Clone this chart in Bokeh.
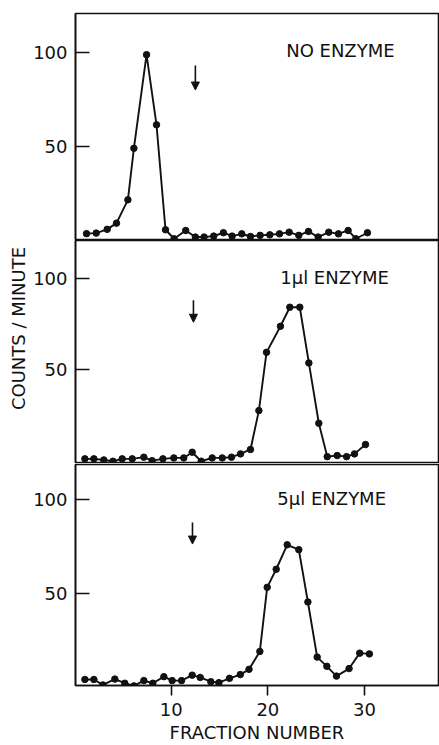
import math
from bokeh.plotting import figure
from bokeh.layouts import column, row
from bokeh.models import FixedTicker, Arrow, NormalHead, Range1d
from bokeh.core.properties import value
from bokeh.embed import file_html
from bokeh.resources import INLINE

# ---- data ----
top_x = [1.24, 2.24, 3.38, 4.34, 5.52, 6.14, 7.45, 8.48, 9.41, 10.3, 11.5, 12.5, 13.4, 14.4, 15.4,
         16.3, 17.3, 18.2, 19.2, 20.2, 21.2, 22.2, 23.2, 24.2, 25.2, 26.3, 27.3, 28.3, 29.1, 30.3]
top_y = [3.6, 3.9, 5.9, 9.2, 21.6, 49.0, 98.8, 61.5, 5.7, 0.9, 5.3, 1.8, 1.8, 2.3, 4.1,
         2.3, 3.5, 2.1, 2.7, 3.0, 3.5, 4.4, 2.7, 4.8, 1.8, 4.4, 3.5, 5.3, 0.9, 4.1]

mid_x = [1.07, 2.0, 3.03, 3.97, 4.93, 5.97, 7.17, 8.03, 9.14, 10.27, 11.3, 12.17, 13.1, 14.24, 15.28,
         16.24, 17.17, 18.2, 19.07, 19.86, 21.3, 22.27, 23.3, 24.24, 25.27, 26.14, 27.17, 28.14, 28.96, 30.1]
mid_y = [1.5, 1.5, 0.9, 0.2, 1.5, 1.5, 2.4, 0.5, 1.5, 2.0, 2.0, 5.1, 0.2, 2.0, 2.0,
         2.4, 4.2, 6.6, 27.8, 59.6, 73.8, 84.2, 84.2, 53.8, 20.9, 2.7, 3.3, 2.7, 4.2, 9.3]

bot_x = [1.07, 2.0, 2.93, 4.17, 5.2, 6.14, 7.17, 8.1, 9.24, 10.1, 11.07, 12.17, 13.0, 14.1, 14.93,
         16.03, 17.15, 18.05, 19.17, 19.93, 20.86, 22.0, 23.2, 24.14, 25.1, 26.1, 27.1, 28.4, 29.5, 30.5]
bot_y = [4.5, 4.5, 1.6, 4.7, 2.5, 1.1, 3.9, 2.5, 6.0, 3.9, 3.9, 6.8, 5.6, 3.3, 2.8,
         5.1, 7.1, 9.9, 19.4, 53.5, 63.1, 76.1, 73.5, 45.7, 16.4, 11.5, 6.3, 10.3, 18.5, 18.1]

panel_labels = ["NO ENZYME", "1\u03bcl ENZYME", "5\u03bcl ENZYME"]
arrow_x = [12.5, 12.3, 12.2]          # fraction marked by the arrow
y_ticks = [50, 100]
x_ticks = [10, 20, 30]
x_label = "FRACTION NUMBER"
y_label = "COUNTS / MINUTE"

FONT = "DejaVu Sans"
INK = "#111111"

# layout (not data)
label_pos = [(27.5, 101.0), (26.9, 100.4), (26.6, 100.5)]
arrow_span = [(93, 80), (88, 76), (88, 76.5)]
y_ranges = [(0.5, 120.7), (-0.5, 120.6), (1.3, 118.8)]
heights = [240, 224, 281]
tops = [13, 0, 0]
bottoms = [1, 2, 57]
LEFT_W = 30

series = [(top_x, top_y), (mid_x, mid_y), (bot_x, bot_y)]
figs = []
for i in range(3):
    last = (i == 2)
    p = figure(width=439 - LEFT_W, height=heights[i], output_backend="svg", toolbar_location=None,
               x_range=Range1d(0.1, 37.65), y_range=Range1d(*y_ranges[i]),
               x_axis_location="below" if last else None,
               min_border_left=75 - LEFT_W, min_border_right=1,
               min_border_top=tops[i], min_border_bottom=bottoms[i])
    p.background_fill_color = "white"
    p.border_fill_color = "white"
    p.outline_line_color = INK
    p.outline_line_width = 1.6
    p.grid.visible = False

    ya = p.yaxis[0]
    ya.ticker = FixedTicker(ticks=y_ticks)
    ya.minor_tick_line_color = None
    ya.major_tick_in = 14
    ya.major_tick_out = 0
    ya.major_tick_line_width = 1.6
    ya.axis_line_width = 1.6
    ya.axis_line_color = INK
    ya.major_tick_line_color = INK
    ya.major_label_standoff = 8
    ya.major_label_text_font = FONT
    ya.major_label_text_font_size = "18px"
    ya.major_label_text_color = INK

    if last:
        xa = p.xaxis[0]
        xa.ticker = FixedTicker(ticks=x_ticks)
        xa.minor_tick_line_color = None
        xa.major_tick_in = 0
        xa.major_tick_out = 10
        xa.major_tick_line_width = 1.6
        xa.axis_line_width = 1.6
        xa.axis_line_color = INK
        xa.major_tick_line_color = INK
        xa.major_label_standoff = 7
        xa.major_label_text_font = FONT
        xa.major_label_text_font_size = "18px"
        xa.major_label_text_color = INK
        xa.axis_label = x_label
        xa.axis_label_standoff = 3
        xa.axis_label_text_font = FONT
        xa.axis_label_text_font_size = "18px"
        xa.axis_label_text_font_style = "normal"
        xa.axis_label_text_color = INK

    xs, ys = series[i]
    p.line(xs, ys, line_color=INK, line_width=1.9)
    p.scatter(xs, ys, size=6.5, fill_color=INK, line_color=INK)

    lx, ly = label_pos[i]
    p.text(x=[lx], y=[ly], text=[panel_labels[i]], text_align="center",
           text_baseline="alphabetic", text_font=value(FONT), text_font_size="18px",
           text_color=INK)

    a0, a1 = arrow_span[i]
    p.add_layout(Arrow(end=NormalHead(size=8, fill_color=INK, line_color=INK),
                       x_start=arrow_x[i], y_start=a0, x_end=arrow_x[i], y_end=a1,
                       line_color=INK, line_width=1.6))
    figs.append(p)

# narrow strip on the left carrying the shared y-axis title
total_h = sum(heights)
lab = figure(width=LEFT_W, height=total_h, output_backend="svg", toolbar_location=None,
             x_range=Range1d(0, LEFT_W), y_range=Range1d(0, total_h),
             x_axis_location=None, y_axis_location=None, min_border=0)
lab.outline_line_color = None
lab.grid.visible = False
lab.background_fill_color = "white"
lab.border_fill_color = "white"
lab.text(x=[18], y=[total_h - 328], text=[y_label], angle=math.pi / 2,
         text_align="center", text_baseline="middle", text_font=value(FONT),
         text_font_size="18px", text_color=INK)

layout = row(lab, column(*figs, spacing=0), spacing=0)
open("out.html", "w").write(file_html(layout, INLINE))
